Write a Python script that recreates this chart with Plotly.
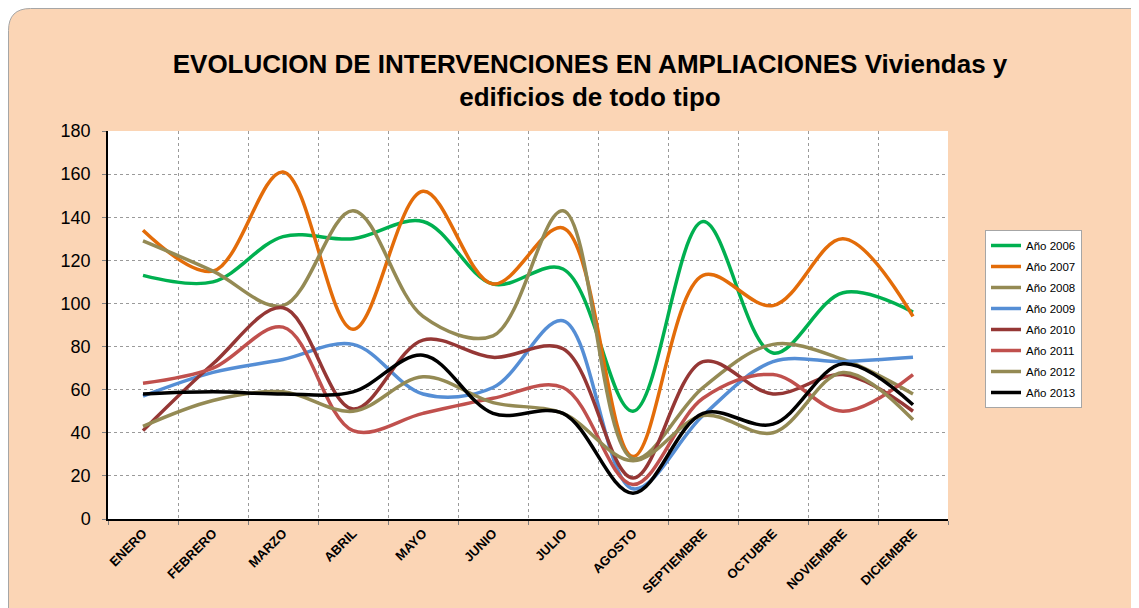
import plotly.graph_objects as go

months = ["ENERO", "FEBRERO", "MARZO", "ABRIL", "MAYO", "JUNIO", "JULIO",
          "AGOSTO", "SEPTIEMBRE", "OCTUBRE", "NOVIEMBRE", "DICIEMBRE"]

y2006 = [113, 110, 131, 130, 138, 109, 116, 50, 138, 77, 105, 96]
y2007 = [134, 115, 161, 88, 152, 109, 135, 29, 113, 99, 130, 94]
y2008 = [129, 115, 99, 143, 94, 85, 143, 28, 61, 81, 74, 58]
y2009 = [57, 68, 74, 81, 58, 61, 92, 14, 48, 73, 73, 75]
y2010 = [41, 72, 98, 51, 83, 75, 79, 19, 73, 58, 67, 50]
y2011 = [63, 70, 89, 41, 49, 56, 61, 16, 56, 67, 50, 67]
y2012 = [43, 55, 59, 50, 66, 54, 49, 27, 48, 40, 68, 46]
y2013 = [58, 59, 58, 59, 76, 49, 49, 12, 49, 44, 72, 53]

series_names = ["Año 2006", "Año 2007", "Año 2008", "Año 2009",
                "Año 2010", "Año 2011", "Año 2012", "Año 2013"]
series_values = [y2006, y2007, y2008, y2009, y2010, y2011, y2012, y2013]
colors = ["#00B050", "#E36C09", "#948A54", "#558ED5",
          "#953735", "#C0504D", "#948A54", "#000000"]

fig = go.Figure()
for name, vals, col in zip(series_names, series_values, colors):
    fig.add_trace(go.Scatter(
        x=months, y=vals, name=name, mode="lines", legendgroup=name,
        line=dict(color=col, width=3.5, shape="spline", smoothing=1.0),
    ))

W, H = 1131, 600
L, T = 100, 123
pw, ph = 840, 388
R = W - L - pw
B = H - T - ph

def px_x(p):
    return (p - L) / pw

def px_y(p):
    return (T + ph - p) / ph

# rounded peach background
x0, x1 = px_x(0.5), px_x(W + 20)
y0, y1 = px_y(H + 20), px_y(0.5)
rx, ry = 22 / pw, 22 / ph
path = (f"M {x0},{y0} L {x0},{y1 - ry} Q {x0},{y1} {x0 + rx},{y1} "
        f"L {x1},{y1} L {x1},{y0} Z")

fig.update_layout(
    width=W, height=H,
    margin=dict(l=L, r=R, t=T, b=B),
    paper_bgcolor="white",
    plot_bgcolor="white",
    font=dict(family="Arial, Liberation Sans, sans-serif", color="black"),
    title=dict(
        text="<b>EVOLUCION DE INTERVENCIONES EN AMPLIACIONES Viviendas y<br>edificios de todo tipo</b>",
        x=582 / W, xanchor="center", y=1 - 64.5 / H, yanchor="middle",
        font=dict(size=26, color="black"),
    ),
    shapes=[
        dict(type="path", path=path, xref="paper", yref="paper",
             fillcolor="#FBD5B5", line=dict(color="#A6A6A6", width=1), layer="below"),
        dict(type="rect", x0=0, x1=1, y0=0, y1=1, xref="paper", yref="paper",
             fillcolor="white", line=dict(width=0), layer="below"),
    ],
    xaxis=dict(
        type="category", tickson="boundaries", tickangle=-45,
        showgrid=True, gridcolor="#9A9A9A", griddash="dot", gridwidth=1,
        showline=True, linecolor="black", linewidth=1.5,
        ticks="outside", ticklen=4, tickcolor="#808080",
        tickfont=dict(size=13, weight="bold", color="black"),
        range=[-0.5, 11.5],
    ),
    yaxis=dict(
        range=[0, 180], dtick=20,
        showgrid=True, gridcolor="#9A9A9A", griddash="dot", gridwidth=1,
        showline=True, linecolor="black", linewidth=1.5,
        ticks="outside", ticklen=4, tickcolor="#808080",
        tickfont=dict(size=18, color="black"), zeroline=False,
        ticklabelstandoff=8,
    ),
    legend=dict(
        x=px_x(977), y=px_y(222), xanchor="left", yanchor="top",
        bgcolor="white", bordercolor="#A6A6A6", borderwidth=1,
        font=dict(size=11.5, color="black"), itemwidth=30,
        tracegroupgap=2,
    ),
)

fig.write_html("out.html")
